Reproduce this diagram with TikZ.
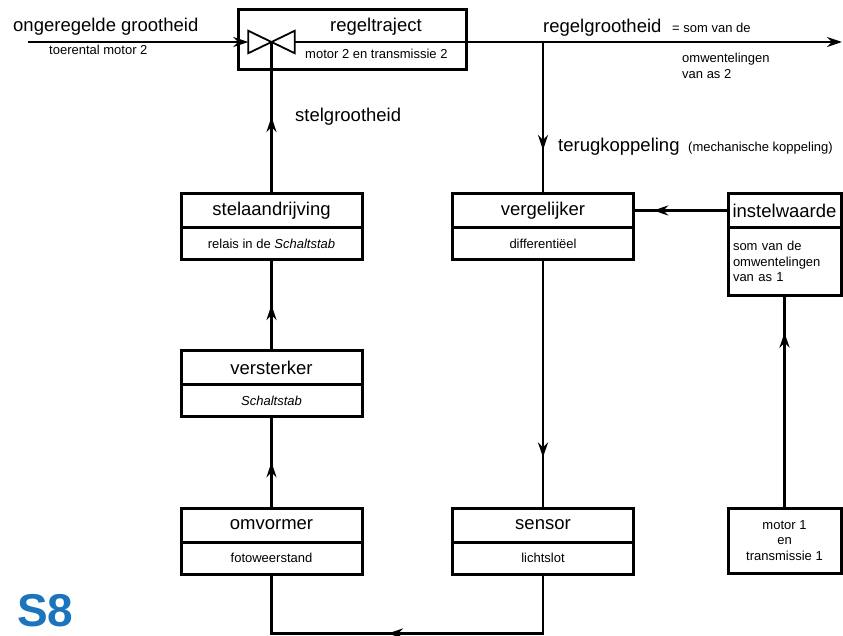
\documentclass[tikz,border=0pt]{standalone}
\usepackage{fontspec}
\setmainfont{Liberation Sans}
\usepackage{xcolor}
\usepackage{tikz}
\usetikzlibrary{arrows.meta, decorations.markings}
\definecolor{sachtblauw}{RGB}{28,117,188}
\newcommand{\grootschrift}{\fontsize{18.5}{22}\selectfont}
\newcommand{\kleinschrift}{\fontsize{13}{15.5}\selectfont}
\tikzstyle{kader} = [rectangle, draw=black, line width=3pt]
\tikzstyle{kop} = [rectangle, draw=black, line width=3pt, minimum width=181pt, minimum height=34pt, font=\grootschrift]
\tikzstyle{onder} = [rectangle, draw=black, line width=3pt, minimum width=181pt, minimum height=32pt, font=\kleinschrift]
\tikzstyle{smal} = [minimum width=113pt, inner xsep=2pt]
\tikzstyle{groot} = [inner sep=0pt, anchor=base west, font=\grootschrift]
\tikzstyle{klein} = [inner sep=0pt, anchor=base west, font=\kleinschrift]
\tikzstyle{lijn} = [line width=2.6pt]
\tikzstyle{pijl} = [line width=2.6pt, -{Stealth[length=15pt,width=10pt]}]
\tikzset{midpijl/.style={decoration={markings, mark=at position #1 with {\arrow{Stealth[length=15pt,width=10pt]}}}, postaction={decorate}}}

\begin{document}
\begin{tikzpicture}[x=1pt, y=1pt, node distance=33pt]
\useasboundingbox (0,0) rectangle (843,635);
\clip (0,0) rectangle (843,635);

\node (regel) [kader, minimum width=228pt, minimum height=60pt] at (352,595) {};
\node (klep) [minimum width=46pt, minimum height=22pt, inner sep=0pt] at (271.5,593) {};
\node (stel) [kop, below of=regel, xshift=-80.5pt, yshift=-137.5pt] {stelaandrijving};
\node (stelsub) [onder, below of=stel] {relais in de \textit{Schaltstab}};
\node (verst) [kop, below of=stelsub, yshift=-91pt] {versterker};
\node (verstsub) [onder, below of=verst] {\textit{Schaltstab}};
\node (omv) [kop, below of=verstsub, yshift=-91.5pt] {omvormer};
\node (omvsub) [onder, below of=omv] {fotoweerstand};

\node (verg) [kop, right of=stel, xshift=238.5pt] {vergelijker};
\node (vergsub) [onder, below of=verg] {differentiëel};
\node (sensor) [kop, right of=omv, xshift=238.5pt] {sensor};
\node (sensorsub) [onder, below of=sensor] {lichtslot};

\node (instel) [kop, smal, right of=verg, xshift=208.5pt] {instelwaarde};
\node (instelsub) [onder, smal, below of=instel, yshift=-18pt, minimum height=68pt, text width=103pt, align=left] {som van de\\omwentelingen\\van as 1};
\node (motor) [onder, smal, right of=sensor, xshift=208.5pt, yshift=-15.5pt, minimum height=65pt, align=center] {motor 1\\en\\transmissie 1};

\node (regeltitel) [groot] at (330,603) {regeltraject};
\node (regelonder) [klein] at (305,576) {motor 2 en transmissie 2};
\node (ongeregeld) [groot] at (13,603) {ongeregelde grootheid};
\node (toerental) [klein] at (49,580) {toerental motor 2};
\node (regelgr) [groot] at (543,602) {regelgrootheid};
\node (somvan) [klein] at (672,602) {= som van de};
\node (omwent) [klein, anchor=west, align=left] at (682,569) {omwentelingen\\van as 2};
\node (stelgr) [groot] at (295,513) {stelgrootheid};
\node (terug) [groot] at (558,483) {terugkoppeling};
\node (mech) [klein] at (688,483) {(mechanische koppeling)};
\node (s8) [inner sep=0pt, anchor=base west, font=\fontsize{46}{46}\selectfont\bfseries, text=sachtblauw] at (17,9) {S8};

\coordinate (inp) at (28,593);
\coordinate (uit) at (842,593);

\draw [line width=1.8pt] (klep.north west) -- (klep.south west) -- (klep.north east) -- (klep.south east) -- cycle;
\draw [pijl] (inp) -- (klep.west);
\draw [pijl] (klep.east) -- (uit);
\draw [lijn, midpijl=0.5] (stel.north) -- (klep.center);
\draw [lijn, midpijl=0.72] (verg.north |- klep.center) -- (verg.north);
\draw [lijn, midpijl=0.8] (instel.west) -- (verg.east);
\draw [lijn, midpijl=0.5] (verst.north) -- (stelsub.south);
\draw [lijn, midpijl=0.5] (omv.north) -- (verstsub.south);
\draw [lijn, midpijl=0.8] (vergsub.south) -- (sensor.north);
\draw [lijn, midpijl=0.83] (motor.north) -- (instelsub.south);
\draw [lijn, midpijl=0.55] (sensorsub.south) -- ++(0,-58) -| (omvsub.south);

\end{tikzpicture}
\end{document}
